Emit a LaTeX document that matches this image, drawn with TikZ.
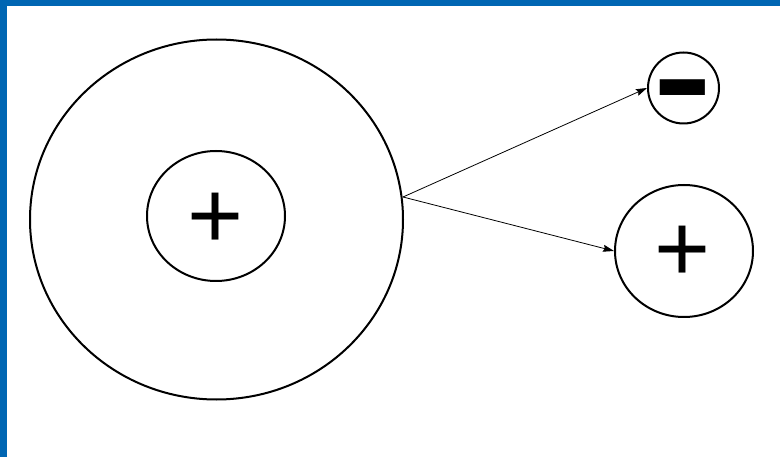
\documentclass[tikz,border=0pt]{standalone}
\usepackage{fontspec}
\setmainfont{Liberation Sans}
\usetikzlibrary{arrows.meta,shapes.geometric}
\definecolor{frameblue}{HTML}{0066B3}
\tikzset{
  ring/.style={draw=black, line width=2pt, fill=white},
  sign/.style={inner sep=0pt, text=black, font=\fontsize{96}{96}\selectfont},
  ray/.style={draw=black, line width=0.8pt, -{Stealth[length=11pt,width=7pt,inset=1.5pt]}}
}
\begin{document}
\begin{tikzpicture}[x=1pt,y=-1pt]
\useasboundingbox (0,0) rectangle (780,457);
\fill[white] (0,0) rectangle (780,457);
\fill[frameblue] (0,0) rectangle (780,6.5);
\fill[frameblue] (0,0) rectangle (7,457);
\node[ring, ellipse, minimum width=373pt, minimum height=360pt, inner sep=0pt] (atom) at (216.5,219.5) {};
\node[ring, ellipse, minimum width=138pt, minimum height=130pt, inner sep=0pt] (nucleus) at (216,216) {};
\node[sign] (plusin) at (216,221) {+};
\node[ring, circle, minimum size=71pt, inner sep=0pt] (electron) at (683.5,88) {};
\node[inner sep=0pt, anchor=base, text=black, font=\fontsize{90}{90}\selectfont\bfseries] (minus) at (683,136) {\scalebox{1}[1.6]{−}};
\node[ring, ellipse, minimum width=138pt, minimum height=132pt, inner sep=0pt] (ion) at (684,251) {};
\node[sign] (plusout) at (683,254) {+};
\coordinate (src) at (403,197);
\draw[ray] (src) -- (electron.west);
\draw[ray] (src) -- (ion.west);
\end{tikzpicture}
\end{document}
